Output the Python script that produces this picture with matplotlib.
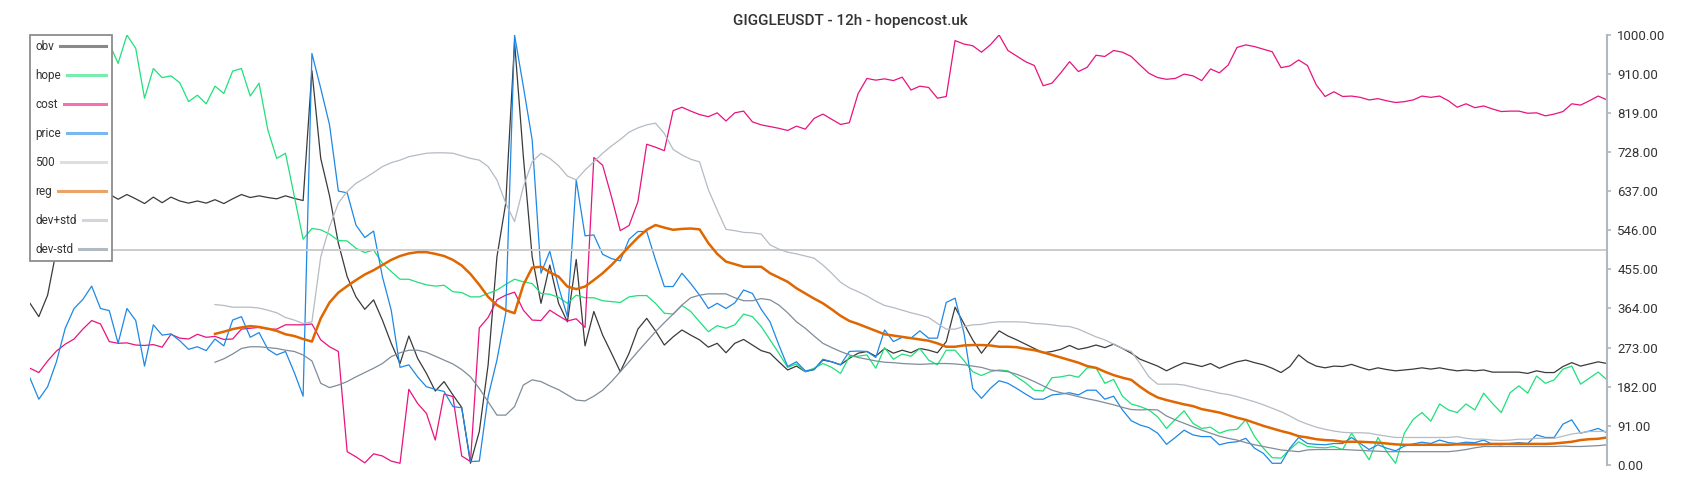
import numpy as np
import matplotlib
matplotlib.use('Agg')
import matplotlib.pyplot as plt
from matplotlib.offsetbox import DrawingArea, TextArea

plt.rcParams['font.family'] = ['Roboto', 'DejaVu Sans']

title = 'GIGGLEUSDT - 12h - hopencost.uk'
yticks = [0, 91, 182, 273, 364, 455, 546, 637, 728, 819, 910, 1000]

obv = [376, 345, 395, 500, 612, 618, 622, 615, 620, 630,
       618, 629, 619, 608, 623, 610, 623, 614, 609, 614,
       609, 617, 608, 619, 629, 622, 626, 622, 619, 626,
       620, 615, 917, 713, 626, 516, 438, 391, 362, 384,
       337, 283, 236, 300, 248, 213, 172, 194, 163, 134,
       4, 78, 233, 484, 609, 984, 717, 484, 376, 465,
       376, 333, 478, 277, 357, 302, 260, 217, 260, 316,
       341, 312, 279, 298, 314, 302, 291, 274, 283, 261,
       283, 292, 279, 266, 260, 240, 221, 230, 217, 222,
       244, 240, 233, 248, 260, 264, 253, 271, 260, 267,
       261, 271, 267, 261, 287, 367, 329, 291, 260, 287,
       312, 300, 291, 281, 271, 261, 264, 269, 278, 269,
       273, 279, 273, 281, 271, 260, 246, 238, 230, 219,
       229, 238, 234, 229, 236, 225, 233, 240, 244, 238,
       233, 225, 215, 229, 256, 240, 230, 226, 230, 229,
       234, 227, 221, 226, 222, 219, 221, 223, 226, 223,
       226, 222, 219, 221, 219, 221, 216, 216, 216, 216,
       213, 219, 215, 215, 229, 238, 230, 235, 240, 236]

hope = [985, 975, 990, 960, 970, 980, 965, 990, 975, 980,
        934, 1000, 969, 853, 922, 901, 905, 889, 845, 860,
        840, 881, 864, 916, 922, 858, 888, 779, 713, 725,
        625, 525, 550, 547, 537, 522, 521, 504, 494, 500,
        469, 450, 432, 432, 425, 419, 416, 418, 403, 401,
        391, 391, 399, 407, 420, 432, 426, 422, 399, 397,
        390, 376, 395, 389, 389, 382, 380, 378, 391, 394,
        394, 376, 353, 351, 371, 357, 333, 310, 324, 318,
        326, 351, 345, 322, 291, 260, 227, 235, 217, 225,
        236, 227, 213, 252, 253, 256, 225, 273, 246, 258,
        253, 271, 244, 233, 267, 267, 243, 217, 208, 217,
        221, 219, 205, 191, 174, 172, 203, 205, 209, 204,
        226, 226, 190, 199, 160, 142, 136, 128, 112, 85,
        106, 126, 97, 85, 88, 74, 81, 83, 105, 66,
        39, 17, 16, 36, 54, 43, 41, 40, 43, 36,
        74, 44, 12, 64, 31, 4, 74, 106, 122, 102,
        142, 128, 122, 142, 128, 167, 143, 122, 168, 184,
        167, 207, 190, 198, 223, 230, 188, 202, 216, 198]

cost = [225, 215, 242, 265, 281, 293, 316, 336, 328, 287,
        283, 284, 279, 278, 280, 274, 304, 295, 293, 304,
        297, 299, 292, 293, 316, 318, 320, 316, 316, 326,
        326, 326, 328, 291, 275, 264, 31, 19, 5, 26,
        21, 9, 4, 176, 143, 120, 58, 165, 159, 21,
        8, 319, 343, 384, 395, 402, 360, 337, 336, 360,
        347, 335, 340, 320, 715, 697, 624, 545, 557, 612,
        746, 739, 731, 824, 832, 823, 815, 810, 819, 800,
        819, 823, 798, 791, 787, 783, 778, 788, 781, 806,
        816, 804, 792, 796, 864, 899, 895, 898, 894, 902,
        872, 881, 878, 853, 857, 987, 979, 975, 960, 977,
        1000, 964, 951, 938, 929, 882, 888, 912, 938, 915,
        925, 953, 950, 964, 960, 950, 930, 911, 901, 897,
        899, 909, 905, 894, 921, 912, 930, 971, 977, 973,
        967, 961, 924, 928, 942, 929, 884, 857, 868, 857,
        858, 855, 849, 852, 847, 843, 845, 849, 858, 855,
        858, 847, 832, 840, 831, 835, 828, 822, 823, 823,
        818, 819, 812, 816, 822, 840, 837, 847, 858, 849]

price = [202, 153, 182, 240, 318, 364, 385, 416, 364, 359,
         283, 364, 336, 230, 326, 302, 305, 289, 269, 275,
         266, 293, 277, 337, 345, 297, 308, 269, 256, 264,
         215, 160, 957, 876, 791, 637, 633, 558, 529, 544,
         438, 360, 227, 233, 205, 182, 176, 171, 136, 133,
         8, 9, 159, 244, 353, 1000, 880, 756, 446, 497,
         414, 345, 663, 533, 535, 490, 480, 475, 525, 543,
         543, 477, 415, 415, 446, 422, 395, 364, 376, 364,
         377, 407, 399, 362, 333, 279, 229, 240, 219, 222,
         246, 240, 233, 264, 265, 264, 250, 314, 287, 297,
         295, 312, 295, 295, 378, 388, 308, 178, 155, 178,
         196, 190, 178, 165, 153, 153, 163, 165, 168, 163,
         174, 174, 153, 160, 128, 103, 93, 87, 74, 48,
         64, 81, 70, 66, 66, 47, 52, 54, 62, 39,
         27, 4, 4, 39, 64, 50, 48, 47, 50, 50,
         64, 50, 36, 47, 39, 33, 44, 49, 53, 50,
         58, 52, 50, 53, 52, 58, 48, 47, 50, 52,
         50, 70, 64, 64, 95, 105, 74, 79, 85, 75]

reg = [None] * 21 + [
    305, 310, 316, 320, 323, 321, 317, 312, 304,
    300, 293, 287, 341, 378, 401, 416, 430, 443, 453,
    465, 477, 486, 492, 495, 495, 491, 486, 477, 464,
    444, 419, 391, 372, 360, 353, 419, 459, 461, 448,
    438, 415, 409, 415, 430, 446, 465, 486, 508, 529,
    547, 558, 552, 547, 549, 550, 548, 516, 491, 473,
    467, 461, 461, 461, 446, 436, 426, 411, 399, 387,
    376, 362, 347, 335, 328, 320, 312, 304, 301, 298,
    295, 292, 289, 283, 275, 275, 278, 279, 279, 278,
    275, 275, 274, 270, 267, 262, 256, 250, 244, 238,
    230, 226, 217, 209, 203, 198, 182, 168, 157, 151,
    146, 141, 137, 130, 126, 122, 116, 110, 105, 98,
    91, 85, 79, 74, 67, 64, 60, 58, 57, 54,
    54, 54, 53, 52, 50, 48, 47, 47, 47, 47,
    47, 47, 48, 48, 48, 48, 49, 49, 49, 49,
    49, 49, 49, 50, 52, 54, 58, 60, 61, 64]

dev_plus = [None] * 21 + [
    373, 371, 367, 367, 367, 365, 360, 354, 343,
    337, 329, 333, 484, 554, 609, 636, 655, 667, 680,
    694, 703, 709, 717, 721, 725, 726, 726, 725, 719,
    713, 709, 694, 663, 609, 566, 647, 705, 725, 713,
    696, 672, 663, 686, 705, 725, 742, 757, 774, 784,
    791, 795, 771, 734, 721, 711, 705, 640, 593, 548,
    545, 541, 540, 537, 512, 502, 495, 491, 486, 481,
    465, 446, 425, 412, 403, 393, 381, 371, 366, 360,
    354, 349, 343, 329, 316, 316, 322, 326, 327, 331,
    333, 333, 333, 332, 329, 328, 326, 323, 322, 316,
    307, 298, 291, 281, 271, 264, 236, 205, 188, 188,
    188, 186, 181, 176, 172, 167, 164, 159, 153, 147,
    140, 132, 124, 114, 103, 95, 88, 83, 79, 76,
    75, 75, 74, 70, 67, 64, 64, 64, 64, 64,
    64, 64, 66, 62, 60, 60, 58, 57, 58, 60,
    60, 62, 62, 62, 67, 72, 75, 78, 78, 78]

dev_minus = [None] * 21 + [
    239, 247, 258, 271, 275, 275, 273, 271, 267,
    264, 256, 242, 190, 180, 186, 194, 205, 215, 225,
    236, 252, 261, 267, 267, 262, 253, 244, 235, 222,
    205, 178, 147, 116, 116, 136, 186, 198, 194, 184,
    175, 163, 151, 149, 160, 174, 194, 217, 240, 264,
    287, 310, 331, 351, 372, 389, 395, 398, 398, 398,
    389, 382, 382, 387, 384, 372, 354, 333, 318, 300,
    283, 273, 264, 256, 250, 246, 242, 239, 238, 236,
    235, 234, 235, 236, 236, 235, 233, 230, 227, 221,
    219, 217, 211, 203, 194, 184, 174, 168, 164, 159,
    154, 150, 145, 140, 134, 129, 128, 129, 128, 114,
    105, 97, 89, 81, 74, 67, 62, 58, 52, 47,
    43, 39, 35, 33, 31, 35, 36, 36, 36, 36,
    35, 34, 33, 32, 31, 31, 31, 31, 31, 31,
    31, 31, 33, 36, 40, 43, 43, 43, 43, 43,
    43, 43, 43, 43, 44, 43, 43, 44, 45, 47]

x = np.arange(len(obv))

fig = plt.figure(figsize=(17, 5), dpi=100)
ax = fig.add_axes([30 / 1700, 35 / 500, 1577 / 1700, 430 / 500])

ax.plot(x, obv, color='#3a3a3a', lw=0.9, label='obv')
ax.plot(x, hope, color='#1fe07a', lw=0.9, label='hope')
ax.plot(x, cost, color='#e8137f', lw=0.9, label='cost')
ax.plot(x, price, color='#1e88e5', lw=0.9, label='price')
ax.axhline(500, color='#c8c8c8', lw=1.3, label='500')
ax.plot(x, np.array(reg, dtype=float), color='#e06600', lw=1.8, label='reg')
ax.plot(x, np.array(dev_plus, dtype=float), color='#b4bbc3', lw=0.9, label='dev+std')
ax.plot(x, np.array(dev_minus, dtype=float), color='#7f8c99', lw=0.9, label='dev-std')

ax.set_xlim(0, len(obv) - 1)
ax.set_ylim(0, 1000)

ax.yaxis.tick_right()
ax.set_yticks(yticks)
ax.set_yticklabels(['{:.2f}'.format(v) for v in yticks])
ax.tick_params(axis='y', length=3, width=1.2, pad=4.5, labelsize=9.5,
               color='#b0b8c0', labelcolor='#333333')
ax.set_xticks([])
for side in ['left', 'top', 'bottom']:
    ax.spines[side].set_visible(False)
ax.spines['right'].set_color('#b0b8c0')
ax.spines['right'].set_linewidth(1.5)

# legend: label first, line after, boxed
leg = ax.legend(loc='upper left', bbox_to_anchor=(0, 1), borderaxespad=0,
                fontsize=8.5, labelspacing=1.35, handlelength=2.0,
                handletextpad=0.5, borderpad=0.45, markerfirst=False,
                fancybox=False, edgecolor='#8c8c8c', framealpha=1)
leg.get_frame().set_linewidth(1.3)
for line in leg.get_lines():
    line.set_alpha(0.6)
    line.set_linewidth(2.2)
for t in leg.get_texts():
    t.set_color('#333333')

# left-align the labels: stretch each handle so every row has the same width
fig.canvas.draw()
renderer = fig.canvas.get_renderer()
p2px = renderer.points_to_pixels(1.0)
labels = [t.get_text() for t in leg.get_texts()]
text_boxes = [tb for tb in leg.findobj(TextArea) if tb.get_text() in labels and tb.get_text()]
hand_boxes = leg.findobj(DrawingArea)
widths = [tb.get_bbox(renderer).width for tb in text_boxes]
wmax = max(widths)
for tb, da, w in zip(text_boxes, hand_boxes, widths):
    da.width += (wmax - w) / p2px
    for art in da.get_children():
        xd = np.asarray(art.get_xdata(), dtype=float)
        if len(xd) > 1:
            art.set_xdata(np.linspace(0, da.width, len(xd)))
        elif len(xd) == 1:
            art.set_xdata([da.width / 2])

fig.text(0.5, 1 - 21 / 500, title, ha='center', va='center',
         fontsize=11, fontweight='medium', color='#333333')

fig.savefig('out.png', dpi=100)
